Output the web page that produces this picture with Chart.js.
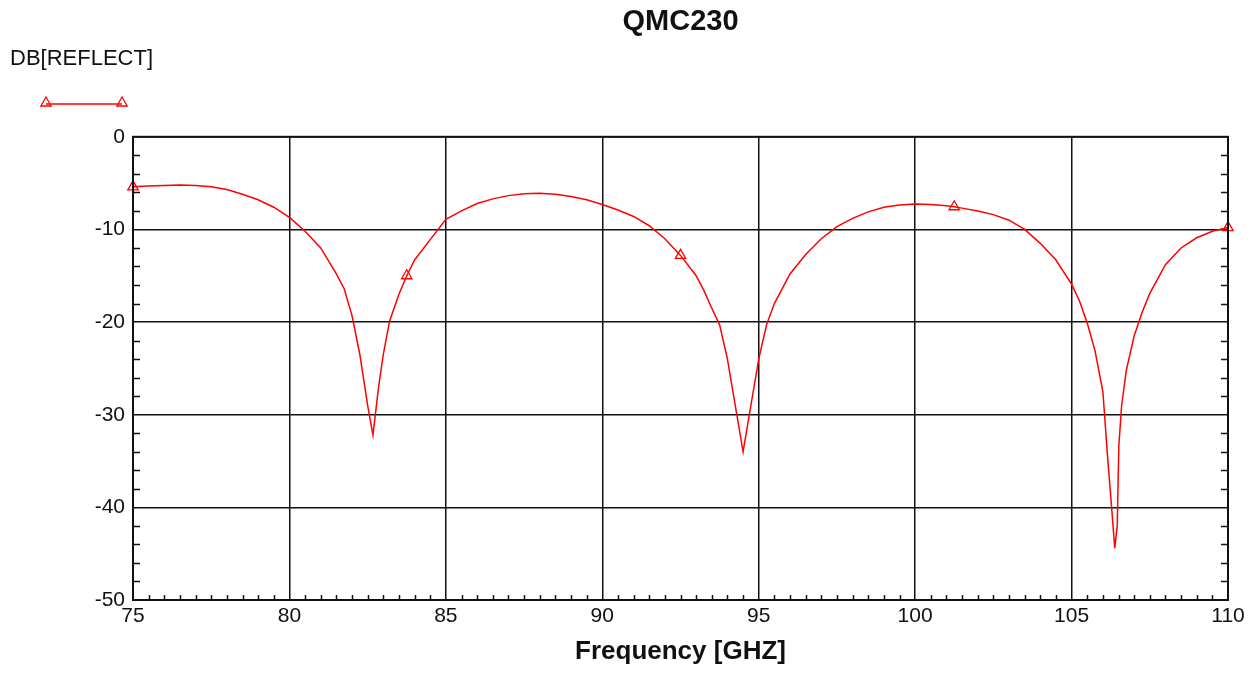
<!DOCTYPE html>
<html>
<head>
<meta charset="utf-8">
<title>QMC230</title>
<script src="https://cdn.jsdelivr.net/npm/chart.js@4/dist/chart.umd.min.js"></script>
<style>
    html, body { margin: 0; padding: 0; background: #fff; }
    #wrap { width: 1260px; height: 673px; position: relative; }
</style>
</head>
<body>
<div id="wrap"><canvas id="chart-reflect"></canvas></div>
<script>
const FONT = "'Liberation Sans', Arial, sans-serif";
const RED = "#ff0000";
const INK = "#111111";

const chartTitle = "QMC230";
const seriesName = "DB[REFLECT]";
const xTitle = "Frequency [GHZ]";

// frequency samples (GHz)
const freqs = [
    75, 75.5, 76, 76.5, 77, 77.5, 78, 78.5, 79, 79.5,
    80, 80.5, 81, 81.5, 81.75, 82, 82.25, 82.5, 82.67, 82.85,
    83, 83.2, 83.5, 83.75, 84, 84.5, 85, 85.5, 86, 86.5,
    87, 87.5, 88, 88.5, 89, 89.5, 90, 90.5, 91, 91.5,
    92, 92.5, 93, 93.25, 93.5, 93.75, 94, 94.25, 94.5, 94.7,
    95, 95.25, 95.5, 96, 96.5, 97, 97.5, 98, 98.5, 99,
    99.5, 100, 100.5, 101, 101.25, 101.5, 102, 102.5, 103, 103.5,
    104, 104.5, 105, 105.25, 105.5, 105.75, 106, 106.15, 106.28, 106.38,
    106.46, 106.51, 106.6, 106.75, 107, 107.25, 107.5, 108, 108.5, 109,
    109.5, 110,
];

// DB[REFLECT] values (dB)
const reflectDb = [
    -5.4, -5.3, -5.25, -5.2, -5.25, -5.4, -5.7, -6.2, -6.8, -7.6,
    -8.7, -10.2, -12.0, -14.8, -16.4, -19.3, -23.5, -29.0, -32.2, -27.0,
    -23.5, -19.9, -17.0, -15.0, -13.3, -11.1, -8.9, -8.0, -7.2, -6.7,
    -6.35, -6.15, -6.1, -6.2, -6.45, -6.8, -7.3, -7.9, -8.6, -9.6,
    -11.0, -12.8, -15.0, -16.6, -18.5, -20.3, -24.0, -29.0, -34.0, -30.0,
    -24.0, -20.3, -18.0, -14.8, -12.7, -11.0, -9.7, -8.8, -8.1, -7.6,
    -7.35, -7.25, -7.3, -7.45, -7.55, -7.7, -8.0, -8.4, -9.0, -10.0,
    -11.5, -13.3, -15.9, -17.7, -20.1, -23.1, -27.5, -34.5, -40.0, -44.4,
    -42.0, -33.4, -29.0, -25.2, -21.5, -19.0, -16.9, -13.8, -12.0, -10.9,
    -10.2, -9.8,
];

// frequencies that carry a triangle marker
const markerFreqs = [75, 83.75, 92.5, 101.25, 110];

const xMin = 75, xMax = 110, xStep = 5, xMinorStep = 0.5;
const yMin = -50, yMax = 0, yStep = 10, yMinorStep = 2;

const frameAndLegend = {
    id: "frameAndLegend",
    afterDraw(chart) {
        const { ctx, chartArea: a, scales } = chart;
        ctx.save();

        // minor ticks, inside the plot
        ctx.strokeStyle = INK;
        ctx.lineWidth = 1.5;
        ctx.beginPath();
        for (let v = yMin; v <= yMax; v += yMinorStep) {
            if (v % yStep === 0) continue;
            const py = Math.round(scales.y.getPixelForValue(v)) + 0.5;
            ctx.moveTo(a.left, py);
            ctx.lineTo(a.left + 7, py);
            ctx.moveTo(a.right - 7, py);
            ctx.lineTo(a.right, py);
        }
        for (let v = xMin; v <= xMax; v += xMinorStep) {
            if (v % xStep === 0) continue;
            const px = Math.round(scales.x.getPixelForValue(v)) + 0.5;
            ctx.moveTo(px, a.bottom);
            ctx.lineTo(px, a.bottom - 5);
        }
        ctx.stroke();

        // frame
        ctx.lineWidth = 2;
        ctx.strokeRect(a.left, a.top, a.right - a.left, a.bottom - a.top);

        // series label + sample
        ctx.fillStyle = INK;
        ctx.font = "22px " + FONT;
        ctx.textAlign = "left";
        ctx.textBaseline = "middle";
        ctx.fillText(seriesName, 10, 59);

        ctx.strokeStyle = RED;
        ctx.lineWidth = 1.5;
        ctx.beginPath();
        ctx.moveTo(46, 104);
        ctx.lineTo(122, 104);
        ctx.stroke();
        ctx.fillStyle = "rgba(0,0,0,0)";
        ctx.lineWidth = 1.3;
        const marker = { pointStyle: "triangle", radius: 6, borderWidth: 1.3 };
        Chart.helpers.drawPoint(ctx, marker, 46, 103);
        Chart.helpers.drawPoint(ctx, marker, 122, 103);

        ctx.restore();
    },
};

const chartElem = document.getElementById("chart-reflect");
const reflectChart = new Chart(chartElem, {
    type: "line",
    data: {
        datasets: [
            {
                label: seriesName,
                data: freqs.map((f, i) => ({ x: f, y: reflectDb[i] })),
                borderColor: RED,
                borderWidth: 1.5,
                backgroundColor: "rgba(0,0,0,0)",
                pointStyle: "triangle",
                pointBorderColor: RED,
                pointBorderWidth: 1.3,
                pointBackgroundColor: "rgba(0,0,0,0)",
                pointRadius: (c) =>
                    markerFreqs.includes(freqs[c.dataIndex]) ? 6 : 0,
                tension: 0,
                clip: 8,
            },
        ],
    },
    options: {
        responsive: true,
        maintainAspectRatio: false,
        animation: false,
        events: [],
        layout: { padding: { left: 0, right: 32, top: 0, bottom: 0 } },
        plugins: {
            legend: { display: false },
            tooltip: { enabled: false },
            title: {
                display: true,
                text: chartTitle,
                fullSize: false,
                color: INK,
                font: { family: FONT, size: 29, weight: "bold" },
                padding: { top: 5, bottom: 97 },
            },
        },
        scales: {
            x: {
                type: "linear",
                min: xMin,
                max: xMax,
                ticks: {
                    stepSize: xStep,
                    color: INK,
                    padding: 4,
                    maxRotation: 0,
                    font: { family: FONT, size: 21 },
                },
                grid: { color: INK, lineWidth: 1.5, drawTicks: false },
                border: { display: false },
                title: {
                    display: true,
                    text: xTitle,
                    color: INK,
                    font: { family: FONT, size: 26, weight: "bold" },
                    padding: { top: 0, bottom: 6 },
                },
                afterFit(scale) {
                    scale.height = 73;
                },
            },
            y: {
                type: "linear",
                min: yMin,
                max: yMax,
                ticks: {
                    stepSize: yStep,
                    color: INK,
                    padding: 8,
                    font: { family: FONT, size: 21 },
                },
                grid: { color: INK, lineWidth: 1.5, drawTicks: false },
                border: { display: false },
                afterFit(scale) {
                    scale.width = 133;
                },
            },
        },
    },
    plugins: [frameAndLegend],
});
</script>
</body>
</html>
